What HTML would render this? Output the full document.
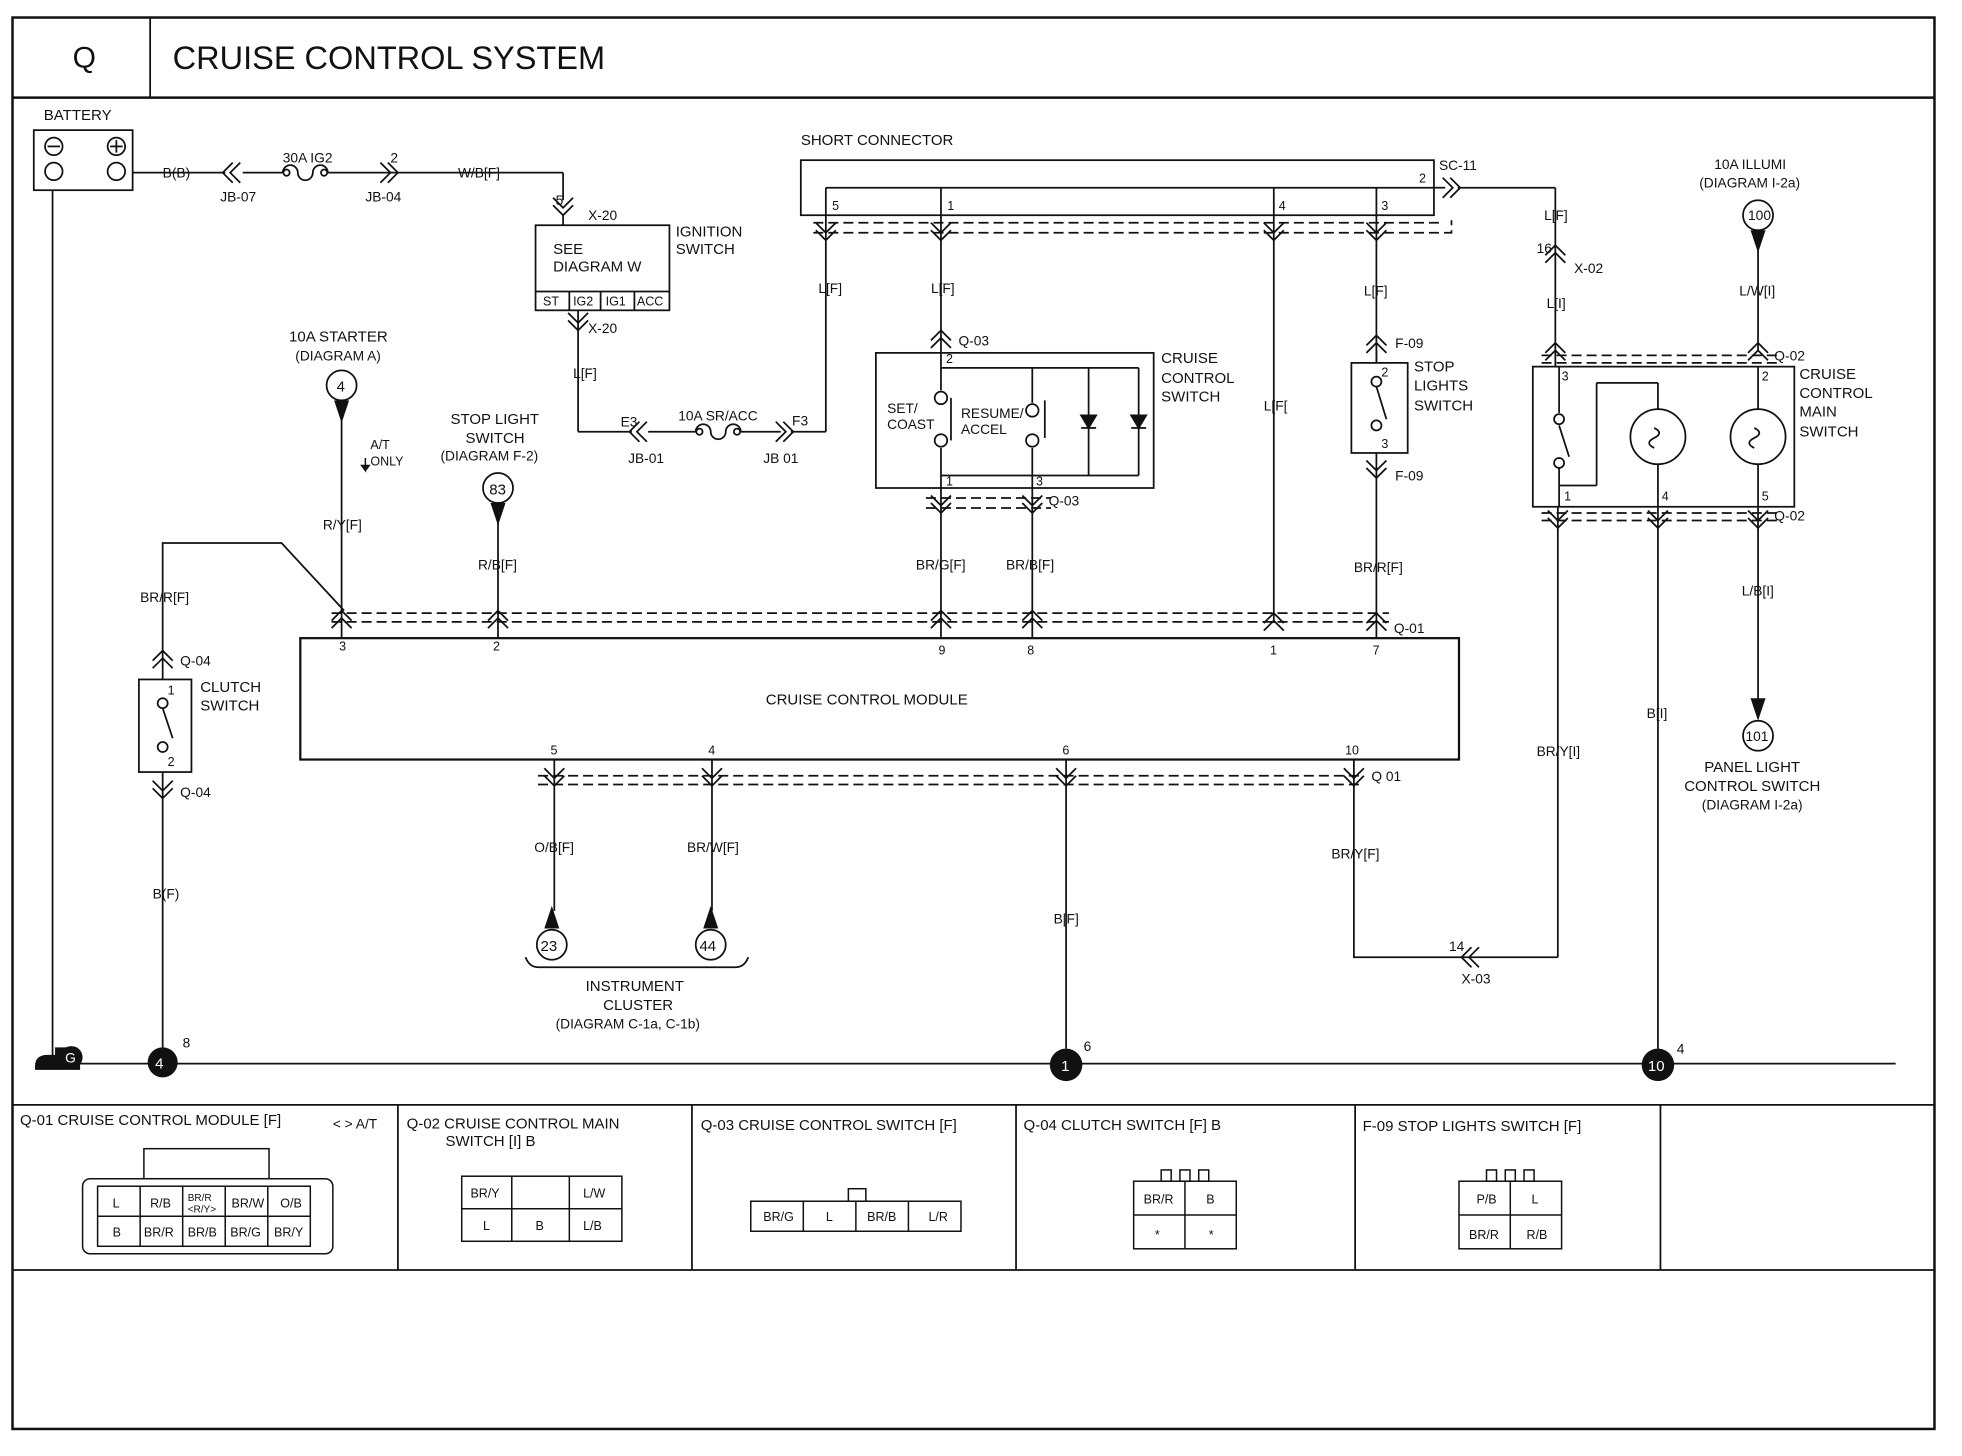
<!DOCTYPE html>
<html><head><meta charset="utf-8"><style>
html,body{margin:0;padding:0;background:#fff}
svg{display:block}
text{font-family:"Liberation Sans",sans-serif;fill:#111}
</style></head><body>
<svg width="1962" height="1456" viewBox="0 0 1568 1163.6" xmlns="http://www.w3.org/2000/svg">
<defs>
<path id="cu" d="M-8,6 L0,-2 L8,6 M-8,12 L0,4 L8,12" fill="none" stroke="#111" stroke-width="1.4"/>
<path id="cd" d="M-8,-6 L0,2 L8,-6 M-8,-12 L0,-4 L8,-12" fill="none" stroke="#111" stroke-width="1.4"/>
<path id="cl" d="M6,-8 L-2,0 L6,8 M12,-8 L4,0 L12,8" fill="none" stroke="#111" stroke-width="1.4"/>
<path id="cr" d="M-6,-8 L2,0 L-6,8 M-12,-8 L-4,0 L-12,8" fill="none" stroke="#111" stroke-width="1.4"/>
</defs>
<g fill="none" stroke="#111" stroke-width="1.4">
<rect x="10" y="14" width="1536" height="1128" stroke-width="2"/>
<line x1="10" y1="78" x2="1546" y2="78" stroke-width="2"/>
<line x1="120" y1="14" x2="120" y2="78"/>
<line x1="10" y1="883" x2="1546" y2="883"/>
<line x1="10" y1="1015" x2="1546" y2="1015"/>
<line x1="318" y1="883" x2="318" y2="1015"/><line x1="553" y1="883" x2="553" y2="1015"/>
<line x1="812" y1="883" x2="812" y2="1015"/><line x1="1083" y1="883" x2="1083" y2="1015"/>
<line x1="1327" y1="883" x2="1327" y2="1015"/>
<line x1="30" y1="850" x2="1515" y2="850"/>
<rect x="27" y="104" width="79" height="48"/>
<circle cx="43" cy="117" r="7"/><line x1="38" y1="117" x2="48" y2="117"/>
<circle cx="43" cy="137" r="7"/>
<circle cx="93" cy="117" r="7"/><line x1="88" y1="117" x2="98" y2="117"/><line x1="93" y1="112" x2="93" y2="122"/>
<circle cx="93" cy="137" r="7"/>
<line x1="42" y1="152" x2="42" y2="848"/>
<line x1="106" y1="138" x2="180" y2="138"/><line x1="194" y1="138" x2="226" y2="138"/>
<path d="M226,138 a6,6 0 0 1 12,0 a6,6 0 0 0 12,0 a6,6 0 0 1 12,0"/>
<circle cx="229" cy="138" r="2.5"/><circle cx="259" cy="138" r="2.5"/>
<line x1="262" y1="138" x2="316" y2="138"/>
<line x1="316" y1="138" x2="450" y2="138"/><line x1="450" y1="138" x2="450" y2="160"/>
<rect x="428" y="180" width="107" height="68"/>
<line x1="428" y1="233" x2="535" y2="233"/>
<line x1="455" y1="233" x2="455" y2="248"/><line x1="480" y1="233" x2="480" y2="248"/><line x1="507" y1="233" x2="507" y2="248"/>
<line x1="450" y1="172" x2="450" y2="180"/>
<line x1="462" y1="248" x2="462" y2="345"/><line x1="462" y1="345" x2="505" y2="345"/>
<line x1="518" y1="345" x2="556" y2="345"/>
<path d="M556,345 a6,6 0 0 1 12,0 a6,6 0 0 0 12,0 a6,6 0 0 1 12,0"/>
<circle cx="559" cy="345" r="2.5"/><circle cx="589" cy="345" r="2.5"/>
<line x1="592" y1="345" x2="624" y2="345"/><line x1="632" y1="345" x2="660" y2="345"/>
<line x1="660" y1="345" x2="660" y2="190"/>
<rect x="640" y="128" width="506" height="44"/>
<line x1="660" y1="150" x2="1146" y2="150"/>
<line x1="660" y1="150" x2="660" y2="172"/><line x1="752" y1="150" x2="752" y2="172"/>
<line x1="1018" y1="150" x2="1018" y2="172"/><line x1="1100" y1="150" x2="1100" y2="172"/>
<line x1="1146" y1="150" x2="1155" y2="150"/><line x1="1165" y1="150" x2="1243" y2="150"/>
<path d="M650,178 H1150 V174 M650,186 H1160 V176" stroke-dasharray="8,4"/>
<line x1="752" y1="172" x2="752" y2="282"/>
<line x1="1018" y1="172" x2="1018" y2="498"/>
<line x1="1100" y1="172" x2="1100" y2="290"/>
<line x1="660" y1="172" x2="660" y2="190"/>
<rect x="700" y="282" width="222" height="108"/>
<line x1="752" y1="282" x2="752" y2="312"/><circle cx="752" cy="318" r="5"/>
<circle cx="752" cy="352" r="5"/><line x1="752" y1="358" x2="752" y2="390"/>
<line x1="760" y1="318" x2="760" y2="352"/>
<line x1="752" y1="294" x2="910" y2="294"/>
<line x1="825" y1="294" x2="825" y2="322"/><circle cx="825" cy="328" r="5"/>
<circle cx="825" cy="352" r="5"/><line x1="825" y1="358" x2="825" y2="390"/>
<line x1="835" y1="320" x2="835" y2="350"/>
<line x1="870" y1="294" x2="870" y2="380"/><line x1="910" y1="294" x2="910" y2="380"/>
<line x1="752" y1="380" x2="910" y2="380"/>
<path d="M864,332 h12 l-6,10 z M904,332 h12 l-6,10 z" fill="#111"/>
<line x1="864" y1="342" x2="876" y2="342"/><line x1="904" y1="342" x2="916" y2="342"/>
<path d="M740,398 H840 M740,406 H840" stroke-dasharray="8,4"/>
<line x1="752" y1="390" x2="752" y2="510"/><line x1="825" y1="390" x2="825" y2="510"/>
<rect x="1080" y="290" width="45" height="72"/>
<line x1="1100" y1="280" x2="1100" y2="290"/>
<circle cx="1100" cy="305" r="4"/><line x1="1100" y1="309" x2="1108" y2="335"/>
<circle cx="1100" cy="340" r="4"/>
<line x1="1100" y1="362" x2="1100" y2="510"/>
<rect x="1225" y="293" width="209" height="112"/>
<path d="M1232,284 H1420 M1232,290 H1420" stroke-dasharray="8,4"/>
<line x1="1243" y1="150" x2="1243" y2="293"/>
<line x1="1246" y1="293" x2="1246" y2="330"/><circle cx="1246" cy="335" r="4"/>
<line x1="1246" y1="340" x2="1254" y2="365"/><circle cx="1246" cy="370" r="4"/>
<line x1="1246" y1="374" x2="1246" y2="405"/>
<line x1="1246" y1="388" x2="1276" y2="388"/><line x1="1276" y1="388" x2="1276" y2="306"/><line x1="1276" y1="306" x2="1325" y2="306"/>
<line x1="1325" y1="306" x2="1325" y2="327"/><circle cx="1325" cy="349" r="22"/><line x1="1325" y1="371" x2="1325" y2="405"/>
<path d="M1322,342 q8,4 0,8 q-8,4 0,8"/>
<line x1="1405" y1="293" x2="1405" y2="327"/><circle cx="1405" cy="349" r="22"/><line x1="1405" y1="371" x2="1405" y2="405"/>
<path d="M1402,342 q8,4 0,8 q-8,4 0,8"/>
<path d="M1232,410 H1420 M1232,416 H1420" stroke-dasharray="8,4"/>
<line x1="1405" y1="185" x2="1405" y2="280"/>
<line x1="1405" y1="405" x2="1405" y2="560"/>
<line x1="1325" y1="405" x2="1325" y2="840"/>
<line x1="1245" y1="405" x2="1245" y2="765"/>
<rect x="240" y="510" width="926" height="97" stroke-width="1.8"/>
<path d="M265,490 H1110 M265,497 H1110" stroke-dasharray="8,4"/>
<path d="M430,620 H1090 M430,627 H1090" stroke-dasharray="8,4"/>
<line x1="273" y1="320" x2="273" y2="510"/>
<polyline points="275,488 225,434 130,434 130,543"/>
<line x1="398" y1="402" x2="398" y2="510"/>
<rect x="111" y="543" width="42" height="74"/>
<circle cx="130" cy="562" r="4"/><line x1="130" y1="566" x2="138" y2="590"/><circle cx="130" cy="597" r="4"/>
<line x1="130" y1="617" x2="130" y2="838"/>
<line x1="443" y1="607" x2="443" y2="728"/>
<line x1="569" y1="607" x2="569" y2="728"/>
<line x1="852" y1="607" x2="852" y2="838"/>
<polyline points="1082,607 1082,765 1245,765"/>
<path d="M420,765 q3,8 10,8 H588 q7,0 10,-8"/>
<circle cx="273" cy="308" r="12"/><circle cx="398" cy="390" r="12"/>
<circle cx="441" cy="755" r="12"/><circle cx="568" cy="755" r="12"/>
<circle cx="1405" cy="172" r="12"/><circle cx="1405" cy="588" r="12"/>
</g>
<g fill="#111">
<path d="M267,320 h12 l-6,18 z"/><path d="M392,402 h12 l-6,18 z"/>
<path d="M435,742 h12 l-6,-18 z"/><path d="M562,742 h12 l-6,-18 z"/>
<path d="M1399,184 h12 l-6,18 z"/><path d="M1399,558 h12 l-6,18 z"/>
<path d="M292,366 v10 l-3,-4 h6 l-3,4" stroke="#111" stroke-width="1.2"/>
<circle cx="130" cy="849" r="12"/><circle cx="852" cy="851" r="13"/><circle cx="1325" cy="851" r="13"/>
<path d="M28,852 q0,-9 10,-9 h6 v-6 h14 v12 h6 v6 h-36 z"/><circle cx="57" cy="845" r="9"/>
</g>
<g>
<use href="#cl" x="180" y="138"/><use href="#cr" x="316" y="138"/>
<use href="#cd" x="450" y="170"/><use href="#cd" x="462" y="262"/>
<use href="#cl" x="505" y="345"/><use href="#cr" x="632" y="345"/>
<use href="#cd" x="660" y="190"/><use href="#cd" x="752" y="190"/><use href="#cd" x="1018" y="190"/><use href="#cd" x="1100" y="190"/>
<use href="#cr" x="1165" y="150"/>
<use href="#cu" x="1243" y="198"/>
<use href="#cu" x="752" y="266"/><use href="#cu" x="1100" y="270"/>
<use href="#cd" x="752" y="408"/><use href="#cd" x="825" y="408"/>
<use href="#cd" x="1100" y="380"/>
<use href="#cu" x="1243" y="276"/><use href="#cu" x="1405" y="276"/>
<use href="#cd" x="1245" y="420"/><use href="#cd" x="1325" y="420"/><use href="#cd" x="1405" y="420"/>
<use href="#cu" x="273" y="490"/><use href="#cu" x="398" y="490"/><use href="#cu" x="752" y="490"/><use href="#cu" x="825" y="490"/><use href="#cu" x="1018" y="492"/><use href="#cu" x="1100" y="492"/>
<use href="#cu" x="130" y="522"/><use href="#cd" x="130" y="636"/>
<use href="#cd" x="443" y="626"/><use href="#cd" x="569" y="626"/><use href="#cd" x="852" y="626"/><use href="#cd" x="1082" y="626"/>
<use href="#cl" x="1170" y="765"/>
</g>
<text x="58" y="54" font-size="24">Q</text>
<text x="138" y="55" font-size="26">CRUISE CONTROL SYSTEM</text>
<g font-size="11">
<text x="35" y="96" font-size="12">BATTERY</text>
<text x="130" y="142">B(B)</text><text x="226" y="130">30A IG2</text><text x="176" y="161">JB-07</text>
<text x="312" y="130">2</text><text x="292" y="161">JB-04</text><text x="366" y="142">W/B[F]</text>
<text x="444" y="164">5</text><text x="470" y="176">X-20</text><text x="470" y="266">X-20</text>
<text x="442" y="203" font-size="12">SEE</text><text x="442" y="217" font-size="12">DIAGRAM  W</text>
<text x="540" y="189" font-size="12">IGNITION</text><text x="540" y="203" font-size="12">SWITCH</text>
<text x="434" y="244" font-size="10">ST</text><text x="458" y="244" font-size="10">IG2</text><text x="484" y="244" font-size="10">IG1</text><text x="509" y="244" font-size="10">ACC</text>
<text x="458" y="302">L[F]</text>
<text x="496" y="341">E3</text><text x="502" y="370">JB-01</text>
<text x="542" y="336">10A SR/ACC</text><text x="633" y="340">F3</text><text x="610" y="370">JB 01</text>
<text x="640" y="116" font-size="12">SHORT CONNECTOR</text>
<text x="665" y="168" font-size="10">5</text><text x="757" y="168" font-size="10">1</text><text x="1022" y="168" font-size="10">4</text><text x="1104" y="168" font-size="10">3</text><text x="1134" y="146" font-size="10">2</text>
<text x="1150" y="136">SC-11</text>
<text x="654" y="234">L[F]</text><text x="744" y="234">L[F]</text><text x="1090" y="236">L[F]</text><text x="1010" y="328">L[F[</text>
<text x="1234" y="176">L[F]</text><text x="1228" y="202">16</text><text x="1258" y="218">X-02</text><text x="1236" y="246">L[I]</text>
<text x="1370" y="135">10A ILLUMI</text><text x="1358" y="150">(DIAGRAM  I-2a)</text>
<text x="1397" y="176" font-size="11">100</text>
<text x="1390" y="236">L/W[I]</text><text x="1418" y="288">Q-02</text><text x="1418" y="416">Q-02</text>
<text x="1438" y="303" font-size="12">CRUISE</text><text x="1438" y="318" font-size="12">CONTROL</text><text x="1438" y="333" font-size="12">MAIN</text><text x="1438" y="349" font-size="12">SWITCH</text>
<text x="1248" y="304" font-size="10">3</text><text x="1408" y="304" font-size="10">2</text>
<text x="1250" y="400" font-size="10">1</text><text x="1328" y="400" font-size="10">4</text><text x="1408" y="400" font-size="10">5</text>
<text x="1392" y="476">L/B[I]</text><text x="1395" y="592" font-size="11">101</text>
<text x="1362" y="617" font-size="12">PANEL LIGHT</text><text x="1346" y="632" font-size="12">CONTROL SWITCH</text><text x="1360" y="647">(DIAGRAM  I-2a)</text>
<text x="1316" y="574">B[I]</text><text x="1228" y="604">BR/Y[I]</text>
<text x="766" y="276">Q-03</text><text x="838" y="404">Q-03</text>
<text x="756" y="290" font-size="10">2</text><text x="756" y="388" font-size="10">1</text><text x="828" y="388" font-size="10">3</text>
<text x="709" y="330">SET/</text><text x="709" y="343">COAST</text><text x="768" y="334">RESUME/</text><text x="768" y="347">ACCEL</text>
<text x="928" y="290" font-size="12">CRUISE</text><text x="928" y="306" font-size="12">CONTROL</text><text x="928" y="321" font-size="12">SWITCH</text>
<text x="1115" y="278">F-09</text><text x="1115" y="384">F-09</text>
<text x="1104" y="301" font-size="10">2</text><text x="1104" y="358" font-size="10">3</text>
<text x="1130" y="297" font-size="12">STOP</text><text x="1130" y="312" font-size="12">LIGHTS</text><text x="1130" y="328" font-size="12">SWITCH</text>
<text x="732" y="455">BR/G[F]</text><text x="804" y="455">BR/B[F]</text><text x="1082" y="457">BR/R[F]</text>
<text x="1114" y="506">Q-01</text>
<text x="231" y="273" font-size="12">10A STARTER</text><text x="236" y="288">(DIAGRAM  A)</text>
<text x="269" y="313" font-size="12">4</text>
<text x="296" y="359" font-size="10">A/T</text><text x="296" y="372" font-size="10">ONLY</text>
<text x="258" y="423">R/Y[F]</text>
<text x="360" y="339" font-size="12">STOP LIGHT</text><text x="372" y="354" font-size="12">SWITCH</text><text x="352" y="368">(DIAGRAM  F-2)</text>
<text x="391" y="395" font-size="12">83</text><text x="382" y="455">R/B[F]</text>
<text x="112" y="481">BR/R[F]</text><text x="144" y="532">Q-04</text><text x="144" y="637">Q-04</text>
<text x="160" y="553" font-size="12">CLUTCH</text><text x="160" y="568" font-size="12">SWITCH</text>
<text x="134" y="555" font-size="10">1</text><text x="134" y="612" font-size="10">2</text>
<text x="122" y="718">B(F)</text>
<g font-size="10"><text x="271" y="520">3</text><text x="394" y="520">2</text><text x="750" y="523">9</text><text x="821" y="523">8</text><text x="1015" y="523">1</text><text x="1097" y="523">7</text>
<text x="440" y="603">5</text><text x="566" y="603">4</text><text x="849" y="603">6</text><text x="1075" y="603">10</text></g>
<text x="612" y="563" font-size="12">CRUISE CONTROL MODULE</text>
<text x="1096" y="624">Q 01</text>
<text x="427" y="681">O/B[F]</text><text x="549" y="681">BR/W[F]</text><text x="842" y="738">B[F]</text><text x="1064" y="686">BR/Y[F]</text>
<text x="1158" y="760">14</text><text x="1168" y="786">X-03</text>
<text x="432" y="760" font-size="12">23</text><text x="559" y="760" font-size="12">44</text>
<text x="468" y="792" font-size="12">INSTRUMENT</text><text x="482" y="807" font-size="12">CLUSTER</text><text x="444" y="822">(DIAGRAM C-1a, C-1b)</text>
<text x="146" y="837">8</text><text x="866" y="840">6</text><text x="1340" y="842">4</text>
<text x="124" y="854" font-size="12" style="fill:#fff">4</text>
<text x="848" y="856" font-size="12" style="fill:#fff">1</text>
<text x="1317" y="856" font-size="12" style="fill:#fff">10</text>
<text x="52" y="849" font-size="11" style="fill:#fff">G</text>
<text x="16" y="899" font-size="12">Q-01 CRUISE CONTROL MODULE [F]</text><text x="266" y="902">&lt; &gt; A/T</text>
<text x="325" y="902" font-size="12">Q-02 CRUISE CONTROL MAIN</text><text x="356" y="916" font-size="12">SWITCH [I] B</text>
<text x="560" y="903" font-size="12">Q-03 CRUISE CONTROL SWITCH [F]</text>
<text x="818" y="903" font-size="12">Q-04 CLUTCH SWITCH [F] B</text>
<text x="1089" y="904" font-size="12">F-09 STOP LIGHTS SWITCH [F]</text>
</g>
<g fill="none" stroke="#111" stroke-width="1.2">
<rect x="66" y="942" width="200" height="60" rx="6"/>
<rect x="115" y="918" width="100" height="24"/>
<rect x="78" y="948" width="170" height="48"/>
<line x1="78" y1="972" x2="248" y2="972"/>
<line x1="112" y1="948" x2="112" y2="996"/><line x1="146" y1="948" x2="146" y2="996"/><line x1="180" y1="948" x2="180" y2="996"/><line x1="214" y1="948" x2="214" y2="996"/>
<rect x="369" y="940" width="128" height="52"/>
<line x1="369" y1="966" x2="497" y2="966"/><line x1="409" y1="966" x2="409" y2="992"/><line x1="455" y1="940" x2="455" y2="992"/><line x1="409" y1="940" x2="409" y2="966"/>
<rect x="600" y="960" width="168" height="24"/>
<line x1="642" y1="960" x2="642" y2="984"/><line x1="684" y1="960" x2="684" y2="984"/><line x1="726" y1="960" x2="726" y2="984"/>
<rect x="678" y="950" width="14" height="10"/>
<rect x="906" y="944" width="82" height="54"/><line x1="906" y1="971" x2="988" y2="971"/><line x1="947" y1="944" x2="947" y2="998"/>
<rect x="928" y="935" width="8" height="9"/><rect x="943" y="935" width="8" height="9"/><rect x="958" y="935" width="8" height="9"/>
<rect x="1166" y="944" width="82" height="54"/><line x1="1166" y1="971" x2="1248" y2="971"/><line x1="1207" y1="944" x2="1207" y2="998"/>
<rect x="1188" y="935" width="8" height="9"/><rect x="1203" y="935" width="8" height="9"/><rect x="1218" y="935" width="8" height="9"/>
</g>
<g font-size="10">
<text x="90" y="965">L</text><text x="120" y="965">R/B</text><text x="150" y="960" font-size="8">BR/R</text><text x="150" y="969" font-size="8">&lt;R/Y&gt;</text><text x="185" y="965">BR/W</text><text x="224" y="965">O/B</text>
<text x="90" y="988">B</text><text x="115" y="988">BR/R</text><text x="150" y="988">BR/B</text><text x="184" y="988">BR/G</text><text x="219" y="988">BR/Y</text>
<text x="376" y="957">BR/Y</text><text x="466" y="957">L/W</text><text x="386" y="983">L</text><text x="428" y="983">B</text><text x="466" y="983">L/B</text>
<text x="610" y="976">BR/G</text><text x="660" y="976">L</text><text x="693" y="976">BR/B</text><text x="742" y="976">L/R</text>
<text x="914" y="962">BR/R</text><text x="964" y="962">B</text><text x="923" y="990">*</text><text x="966" y="990">*</text>
<text x="1180" y="962">P/B</text><text x="1224" y="962">L</text><text x="1174" y="990">BR/R</text><text x="1220" y="990">R/B</text>
</g>
</svg>
</body></html>
